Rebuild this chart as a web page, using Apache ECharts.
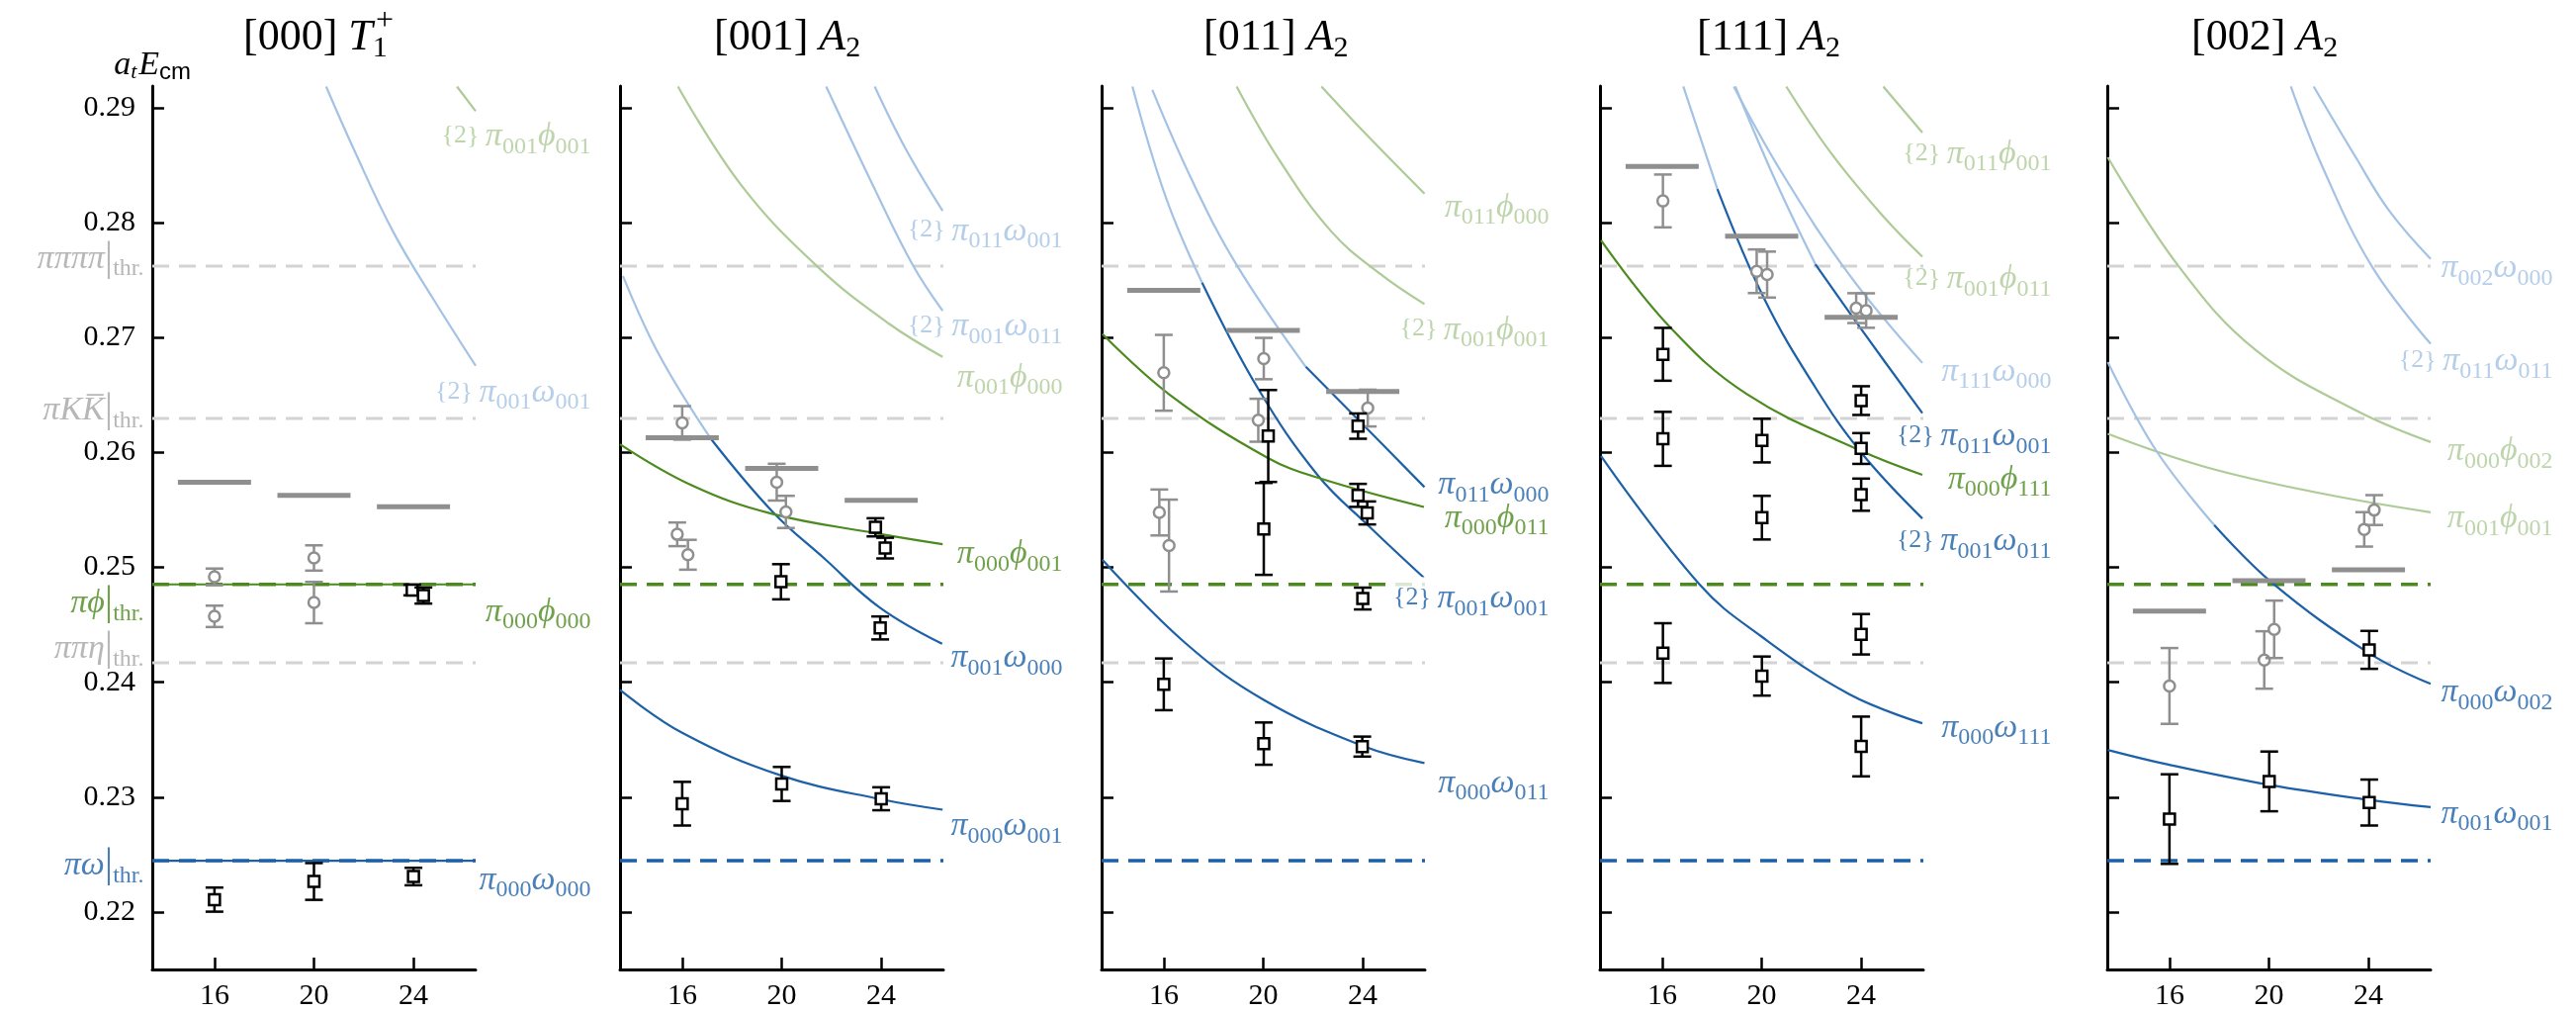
<!DOCTYPE html>
<html>
<head>
<meta charset="utf-8">
<title>Finite-volume spectra</title>
<script src="https://cdn.jsdelivr.net/npm/echarts@6/dist/echarts.min.js"></script>
<style>
  html, body { margin: 0; padding: 0; background: #fff; }
  #chart { width: 2605px; height: 1023px; }
</style>
</head>
<body>
<div id="chart"></div>
<script>
// 坐标轴
const xTicks = [16, 20, 24]
const yTicks = [0.22, 0.23, 0.24, 0.25, 0.26, 0.27, 0.28, 0.29]
const X_MIN = 13.5, X_MAX = 26.5, Y_MIN = 0.215, Y_MAX = 0.2919

// 阈值: ππππ, πKK̄, πφ, ππη, πω
const thrValues = [0.27622, 0.26296, 0.24852, 0.24169, 0.22447]

// ---- [000] T1+ ----  [L, E, err]
const p1Levels = [[16, 0.22108, 0.00105], [20, 0.22266, 0.0016], [24, 0.22309, 0.00076], [23.95, 0.24803, 0.00046], [24.4, 0.24755, 0.0007]]
const p1Other = [[16, 0.24918, 0.00072], [16, 0.24574, 0.00093], [20, 0.25082, 0.0011], [20, 0.24694, 0.0018]]
const p1Bars = [[16, 0.25742], [20, 0.25628], [24, 0.25527]]
const p1_pi001om001 = [[20.49, 0.29186], [21.6, 0.28641], [23.18, 0.27923], [24.76, 0.27349], [26.5, 0.26755]]
const p1_pi001phi001 = [[25.75, 0.29186], [26.5, 0.28971]]
const p1_pi000phi000 = [[13.5, 0.24852], [26.5, 0.24852]]
const p1_pi000om000 = [[13.5, 0.22447], [26.5, 0.22447]]

// ---- [001] A2 ----
const p2Levels = [[23.77, 0.25349, 0.00079], [24.16, 0.25168, 0.0009], [19.97, 0.24875, 0.00153], [23.96, 0.24473, 0.001], [16, 0.22943, 0.0019], [20, 0.23115, 0.00148], [24, 0.22986, 0.001]]
const p2Other = [[16, 0.26258, 0.00146], [19.8, 0.25742, 0.0016], [20.17, 0.25483, 0.0014], [15.8, 0.25288, 0.00103], [16.23, 0.2511, 0.0013]]
const p2Bars = [[16, 0.26129], [20, 0.25862], [24, 0.25584]]
const p2_pi011om001 = [[23.74, 0.29186], [24.99, 0.28641], [26.47, 0.28104]]
const p2_pi001om011 = [[21.79, 0.29186], [23.67, 0.28325], [25.26, 0.27636], [26.47, 0.27234]]
const p2_pi001phi000 = [[15.83, 0.29186], [18.38, 0.28325], [21.42, 0.27622], [24.33, 0.27119], [26.47, 0.26833]]
const p2_pi001om000_a = [[13.62, 0.27536], [15.08, 0.26847], [17.12, 0.26129]]
const p2_pi001om000_b = [[17.12, 0.26129], [19.64, 0.25483], [21.69, 0.25082], [23.94, 0.24651], [26.45, 0.24335]]
const p2_pi000phi001 = [[13.5, 0.26072], [16.4, 0.25713], [19.57, 0.25469], [23.8, 0.25297], [26.47, 0.25202]]
const p2_pi000om001 = [[13.5, 0.23933], [16, 0.2356], [20, 0.23187], [24, 0.22981], [26.47, 0.22891]]

// ---- [011] A2 ----
const p3Levels = [[20.2, 0.26144, 0.004], [20.02, 0.25335, 0.004], [23.81, 0.2623, 0.0011], [23.81, 0.25627, 0.001], [24.18, 0.25474, 0.001], [24, 0.24729, 0.00095], [16, 0.23982, 0.00225], [20.02, 0.23466, 0.00184], [23.98, 0.2344, 0.00087]]
const p3Other = [[16, 0.26694, 0.0033], [20.02, 0.26818, 0.0018], [19.8, 0.26281, 0.00187], [24.2, 0.26387, 0.0016], [15.82, 0.25478, 0.002], [16.21, 0.2519, 0.004]]
const p3Bars = [[16, 0.27412], [20, 0.27062], [24, 0.26531]]
const p3_pi011phi000 = [[22.34, 0.29186], [24.07, 0.28785], [26.48, 0.28254]]
const p3_pi001phi001 = [[18.93, 0.29186], [20.62, 0.28554], [22.74, 0.27923], [24.73, 0.2755], [26.48, 0.27292]]
const p3_pi011om000_a = [[15.54, 0.29156], [17.17, 0.28354], [18.96, 0.27622], [21.71, 0.26746]]
const p3_pi011om000_b = [[21.71, 0.26746], [24.07, 0.2623], [26.48, 0.25699]]
const p3_pi001om001_a = [[14.74, 0.29186], [16.1, 0.28211], [17.54, 0.27479]]
const p3_pi001om001_b = [[17.54, 0.27479], [19.82, 0.26546], [22.2, 0.25799], [24.2, 0.25369], [26.46, 0.2491]]
const p3_pi000phi011 = [[13.53, 0.27033], [16.24, 0.26503], [20.15, 0.25957], [22.34, 0.25771], [26.46, 0.25526]]
const p3_pi000om011 = [[13.53, 0.25067], [16.9, 0.24335], [20.02, 0.23847], [24, 0.23446], [26.48, 0.23296]]

// ---- [111] A2 ----
const p4Levels = [[16.03, 0.26855, 0.0023], [16.03, 0.26119, 0.00235], [20.01, 0.26104, 0.0019], [20.01, 0.25433, 0.0019], [24, 0.26452, 0.00125], [24, 0.26035, 0.00134], [24, 0.25633, 0.0014], [16.03, 0.24254, 0.0026], [20.01, 0.24054, 0.0017], [24, 0.24418, 0.00176], [24, 0.23441, 0.0026]]
const p4Other = [[16.03, 0.2819, 0.0023], [19.8, 0.27578, 0.0019], [20.22, 0.27549, 0.002], [23.8, 0.27257, 0.0013], [24.2, 0.27236, 0.0015]]
const p4Bars = [[16, 0.2849], [20, 0.27883], [24, 0.27177]]
const p4_pi011phi001 = [[24.89, 0.29186], [26.46, 0.28786]]
const p4_pi001phi011 = [[20.99, 0.29186], [22.84, 0.28592], [24.89, 0.28055], [26.46, 0.27704]]
const p4_pi111om000 = [[18.88, 0.29186], [20.79, 0.28443], [23.52, 0.27549], [26.46, 0.2678]]
const p4_pi011om001_a = [[18.94, 0.29186], [20.52, 0.28383], [22.16, 0.27639]]
const p4_pi011om001_b = [[22.16, 0.27639], [24.21, 0.27012], [26.46, 0.26342]]
const p4_pi001om011_a = [[16.85, 0.29186], [18.22, 0.28294]]
const p4_pi001om011_b = [[18.22, 0.28294], [20.1, 0.27341], [22.16, 0.26566], [24, 0.26], [26.46, 0.25426]]
const p4_pi000phi111 = [[13.54, 0.27847], [16.28, 0.271], [19.42, 0.26506], [24, 0.26014], [26.46, 0.25806]]
const p4_pi000om111 = [[13.54, 0.2597], [17.51, 0.24849], [19.97, 0.24402], [23.52, 0.23896], [26.46, 0.23643]]

// ---- [002] A2 ----
const p5Levels = [[24.03, 0.24282, 0.00165], [16, 0.22809, 0.0039], [20.01, 0.23137, 0.0026], [24.03, 0.22953, 0.002]]
const p5Other = [[16, 0.23968, 0.0033], [19.81, 0.24194, 0.0025], [20.21, 0.24461, 0.0025], [23.83, 0.25331, 0.0015], [24.23, 0.25499, 0.0013]]
const p5Bars = [[16, 0.2462], [20, 0.24885], [24, 0.24978]]
const p5_pi002om000 = [[21.8, 0.29186], [23.49, 0.2857], [24.83, 0.28106], [26.5, 0.27685]]
const p5_pi011om011 = [[20.88, 0.29186], [22.16, 0.28482], [24.16, 0.27613], [26.5, 0.26946]]
const p5_pi000phi002 = [[13.52, 0.2857], [16.4, 0.27613], [19.48, 0.26889], [23.49, 0.26367], [26.5, 0.26091]]
const p5_pi001phi001 = [[13.52, 0.26163], [17.47, 0.25873], [22.16, 0.25642], [26.5, 0.2548]]
const p5_pi000om002_a = [[13.52, 0.26787], [15.46, 0.26019], [17.8, 0.25369]]
const p5_pi000om002_b = [[17.8, 0.25369], [20.15, 0.24862], [24.03, 0.24253], [26.5, 0.23986]]
const p5_pi001om001 = [[13.52, 0.23411], [16, 0.23281], [20.01, 0.23107], [24.03, 0.22976], [26.5, 0.22913]]

// 颜色
const SERIF = '"Liberation Serif", "DejaVu Serif", serif'
const DB = '#1c60a8'
const LB = '#a3c2e4'
const DG = '#4b8a1d'
const LG = '#aecb97'
const GD = '#d3d3d3'
const GT = '#a5a5a5'
const PHI = '\u03d5'

// 标签文字 (rich)
function lab(two, a, ai, b, bi) {
  const g = b === 'φ' ? PHI : b
  return (two ? '{b|{2}}{b| }' : '') + '{m|' + a + '}{s|' + ai + '}{m|' + g + '}{s|' + bi + '}'
}
function thr(t) {
  return '{m|' + t + '}{v||}{s|thr.}'
}

const panels = [
  {
    title: '{r|[000] }{i|T}{sb|1}', tx: 246, left: 154, dx: 117,
    levels: p1Levels, other: p1Other, bars: p1Bars,
    curves: [[p1_pi001om001, LB], [p1_pi001phi001, LG], [p1_pi000phi000, DG], [p1_pi000om000, DB]],
    labels: [
      [lab(1, 'π', '001', 'φ', '001'), LG, 0.28744],
      [lab(1, 'π', '001', 'ω', '001'), LB, 0.26517],
      [lab(0, 'π', '000', 'φ', '000'), DG, 0.24608],
      [lab(0, 'π', '000', 'ω', '000'), DB, 0.22269]
    ]
  },
  {
    title: '{r|[001] }{i|A}{sb|2}', tx: 722, left: 627, dx: 121,
    levels: p2Levels, other: p2Other, bars: p2Bars,
    curves: [[p2_pi011om001, LB], [p2_pi001om011, LB], [p2_pi001phi000, LG], [p2_pi001om000_a, LB], [p2_pi001om000_b, DB], [p2_pi000phi001, DG], [p2_pi000om001, DB]],
    labels: [
      [lab(1, 'π', '011', 'ω', '001'), LB, 0.27923],
      [lab(1, 'π', '001', 'ω', '011'), LB, 0.27091],
      [lab(0, 'π', '001', 'φ', '000'), LG, 0.26646],
      [lab(0, 'π', '000', 'φ', '001'), DG, 0.2511],
      [lab(0, 'π', '001', 'ω', '000'), DB, 0.24206],
      [lab(0, 'π', '000', 'ω', '001'), DB, 0.22742]
    ]
  },
  {
    title: '{r|[011] }{i|A}{sb|2}', tx: 1217, left: 1114, dx: 126,
    levels: p3Levels, other: p3Other, bars: p3Bars,
    curves: [[p3_pi011phi000, LG], [p3_pi001phi001, LG], [p3_pi011om000_a, LB], [p3_pi011om000_b, DB], [p3_pi001om001_a, LB], [p3_pi001om001_b, DB], [p3_pi000phi011, DG], [p3_pi000om011, DB]],
    labels: [
      [lab(0, 'π', '011', 'φ', '000'), LG, 0.28127],
      [lab(1, 'π', '001', 'φ', '001'), LG, 0.27062],
      [lab(0, 'π', '011', 'ω', '000'), DB, 0.25713],
      [lab(0, 'π', '000', 'φ', '011'), DG, 0.25426],
      [lab(1, 'π', '001', 'ω', '001'), DB, 0.24723, true],
      [lab(0, 'π', '000', 'ω', '011'), DB, 0.23115]
    ]
  },
  {
    title: '{r|[111] }{i|A}{sb|2}', tx: 1716, left: 1618, dx: 130,
    levels: p4Levels, other: p4Other, bars: p4Bars,
    curves: [[p4_pi011phi001, LG], [p4_pi001phi011, LG], [p4_pi111om000, LB], [p4_pi011om001_a, LB], [p4_pi011om001_b, DB], [p4_pi001om011_a, LB], [p4_pi001om011_b, DB], [p4_pi000phi111, DG], [p4_pi000om111, DB]],
    labels: [
      [lab(1, 'π', '011', 'φ', '001'), LG, 0.28592],
      [lab(1, 'π', '001', 'φ', '011'), LG, 0.27504],
      [lab(0, 'π', '111', 'ω', '000'), LB, 0.267],
      [lab(1, 'π', '011', 'ω', '001'), DB, 0.26133],
      [lab(0, 'π', '000', 'φ', '111'), DG, 0.25761],
      [lab(1, 'π', '001', 'ω', '011'), DB, 0.25222],
      [lab(0, 'π', '000', 'ω', '111'), DB, 0.23598]
    ]
  },
  {
    title: '{r|[002] }{i|A}{sb|2}', tx: 2216, left: 2131, dx: 124,
    levels: p5Levels, other: p5Other, bars: p5Bars,
    curves: [[p5_pi002om000, LB], [p5_pi011om011, LB], [p5_pi000phi002, LG], [p5_pi001phi001, LG], [p5_pi000om002_a, LB], [p5_pi000om002_b, DB], [p5_pi001om001, DB]],
    labels: [
      [lab(0, 'π', '002', 'ω', '000'), LB, 0.27599],
      [lab(1, 'π', '011', 'ω', '011'), LB, 0.26787],
      [lab(0, 'π', '000', 'φ', '002'), LG, 0.26004],
      [lab(0, 'π', '001', 'φ', '001'), LG, 0.25418],
      [lab(0, 'π', '000', 'ω', '002'), DB, 0.23905],
      [lab(0, 'π', '001', 'ω', '001'), DB, 0.22846]
    ]
  }
]

// 阈值标签 (只在第一个面板)
const thrLabels = [
  [thr('ππππ'), GT, 0.27682],
  ['{m|πK}{m|K\u0305}{v||}{s|thr.}', GT, 0.26358],
  [thr('π' + PHI), DG, 0.2468],
  [thr('ππη'), GT, 0.24284],
  [thr('πω'), DB, 0.22397]
]

const RICH = {
  m: { fontFamily: SERIF, fontStyle: 'italic', fontSize: 34 },
  s: { fontFamily: SERIF, fontSize: 24, padding: [20, 0, 0, 0] },
  b: { fontFamily: SERIF, fontSize: 26, padding: [0, 0, 2, 0] },
  v: { fontFamily: SERIF, fontSize: 42 }
}

function errItem(kind) {
  return function (params, api) {
    const x = api.value(0), y = api.value(1), e = api.value(2)
    const c = api.coord([x, y])
    const hi = api.coord([x, y + e])[1]
    const lo = api.coord([x, y - e])[1]
    const col = kind === 'sq' ? '#000' : '#8f8f8f'
    const w = 2.5, cap = 9
    const ch = [
      { type: 'line', shape: { x1: c[0], y1: hi, x2: c[0], y2: lo }, style: { stroke: col, lineWidth: w } },
      { type: 'line', shape: { x1: c[0] - cap, y1: hi, x2: c[0] + cap, y2: hi }, style: { stroke: col, lineWidth: w } },
      { type: 'line', shape: { x1: c[0] - cap, y1: lo, x2: c[0] + cap, y2: lo }, style: { stroke: col, lineWidth: w } }
    ]
    if (kind === 'sq') {
      ch.push({ type: 'rect', shape: { x: c[0] - 5.5, y: c[1] - 5.5, width: 11, height: 11 }, style: { fill: '#fff', stroke: col, lineWidth: w } })
    } else {
      ch.push({ type: 'circle', shape: { cx: c[0], cy: c[1], r: 5.5 }, style: { fill: '#fff', stroke: col, lineWidth: w } })
    }
    return { type: 'group', children: ch }
  }
}

function barItem(params, api) {
  const a = api.coord([api.value(0) - 1.47, api.value(1)])
  const b = api.coord([api.value(0) + 1.47, api.value(1)])
  return { type: 'line', shape: { x1: a[0], y1: a[1], x2: b[0], y2: b[1] }, style: { stroke: '#8f8f8f', lineWidth: 5 } }
}

const grid = [], xAxis = [], yAxis = [], series = [], graphic = []

panels.forEach((p, i) => {
  grid.push({ left: p.left, top: 87, width: 327, height: 893 })
  xAxis.push({
    gridIndex: i, type: 'value', min: X_MIN, max: X_MAX,
    axisLine: { onZero: false, lineStyle: { color: '#000', width: 3 } },
    axisTick: { inside: true, length: 12, customValues: xTicks, lineStyle: { color: '#000', width: 2.5 } },
    axisLabel: { customValues: xTicks, color: '#000', fontFamily: SERIF, fontSize: 30, margin: 12 },
    splitLine: { show: false }
  })
  yAxis.push({
    gridIndex: i, type: 'value', min: Y_MIN, max: Y_MAX,
    axisLine: { onZero: false, lineStyle: { color: '#000', width: 3 } },
    axisTick: { inside: true, length: 12, customValues: yTicks, lineStyle: { color: '#000', width: 2.5 } },
    axisLabel: { show: i === 0, customValues: yTicks, color: '#000', fontFamily: SERIF, fontSize: 30, margin: 17, formatter: (v) => v.toFixed(2) },
    splitLine: { show: false }
  })

  // 阈值虚线
  const thrColors = [GD, GD, DG, GD, DB]
  thrValues.forEach((v, k) => {
    series.push({
      type: 'line', xAxisIndex: i, yAxisIndex: i, data: [[X_MIN, v], [X_MAX, v]],
      symbol: 'none', silent: true, z: 1,
      lineStyle: { color: thrColors[k], width: k === 2 || k === 4 ? 3.5 : 3, type: [17, 10] }
    })
  })

  // 非相互作用能级曲线
  p.curves.forEach(([pts, col]) => {
    series.push({
      type: 'line', xAxisIndex: i, yAxisIndex: i, data: pts, smooth: 0.4,
      symbol: 'none', silent: true, z: 2, lineStyle: { color: col, width: 2.2 }
    })
  })

  series.push({ type: 'custom', xAxisIndex: i, yAxisIndex: i, data: p.bars, renderItem: barItem, encode: { x: 0, y: 1 }, z: 3, silent: true })
  series.push({ type: 'custom', xAxisIndex: i, yAxisIndex: i, data: p.other, renderItem: errItem('ci'), encode: { x: 0, y: 1 }, z: 4, silent: true })
  series.push({ type: 'custom', xAxisIndex: i, yAxisIndex: i, data: p.levels, renderItem: errItem('sq'), encode: { x: 0, y: 1 }, z: 5, silent: true })

  // 右侧标签
  series.push({
    type: 'scatter', xAxisIndex: i, yAxisIndex: i, symbolSize: 1, clip: false, silent: true, z: 6,
    itemStyle: { color: 'rgba(0,0,0,0)' },
    label: { fontFamily: SERIF, fontSize: 26 },
    data: p.labels.map(([txt, col, y, bg]) => ({
      value: [X_MAX, y],
      label: {
        show: true, formatter: txt, color: col, position: [p.dx, 0], align: 'right', verticalAlign: 'middle',
        fontFamily: SERIF, fontSize: 26, rich: RICH,
        backgroundColor: bg ? '#fff' : 'transparent', padding: bg ? [0, 0, 0, 4] : 0
      }
    }))
  })

  graphic.push({
    type: 'text', x: p.tx, y: 38,
    style: {
      text: p.title, align: 'left', verticalAlign: 'middle', fill: '#000',
      rich: {
        r: { fontFamily: SERIF, fontSize: 44, fill: '#000' },
        i: { fontFamily: SERIF, fontStyle: 'italic', fontSize: 44, fill: '#000' },
        sb: { fontFamily: SERIF, fontSize: 30, fill: '#000', padding: [22, 0, 0, 0] }
      }
    }
  })
})

// 阈值标签
series.push({
  type: 'scatter', xAxisIndex: 0, yAxisIndex: 0, symbolSize: 1, clip: false, silent: true, z: 6,
  itemStyle: { color: 'rgba(0,0,0,0)' },
  label: { fontFamily: SERIF, fontSize: 24 },
  data: thrLabels.map(([txt, col, y]) => ({
    value: [X_MIN, y],
    label: { show: true, formatter: txt, color: col, position: [-8, 0], align: 'right', verticalAlign: 'middle', fontFamily: SERIF, fontSize: 24, rich: RICH }
  }))
})

// T1 的上标 +
graphic.push({ type: 'text', x: 380, y: 22, style: { text: '+', fontFamily: SERIF, fontSize: 32, fill: '#000', align: 'left', verticalAlign: 'middle' } })
// 纵轴标题
graphic.push({
  type: 'text', x: 193, y: 66,
  style: {
    text: '{i|a}{t|t}{i|E}{c|cm}', align: 'right', verticalAlign: 'middle',
    rich: {
      i: { fontFamily: SERIF, fontStyle: 'italic', fontSize: 34, fill: '#000' },
      t: { fontFamily: SERIF, fontStyle: 'italic', fontSize: 22, fill: '#000', padding: [14, 2, 0, 0] },
      c: { fontFamily: '"Liberation Sans", sans-serif', fontSize: 24, fill: '#000', padding: [14, 0, 0, 0] }
    }
  }
})

const chart = echarts.init(document.getElementById('chart'))
chart.setOption({ animation: false, backgroundColor: '#fff', grid, xAxis, yAxis, series, graphic })
</script>
</body>
</html>
